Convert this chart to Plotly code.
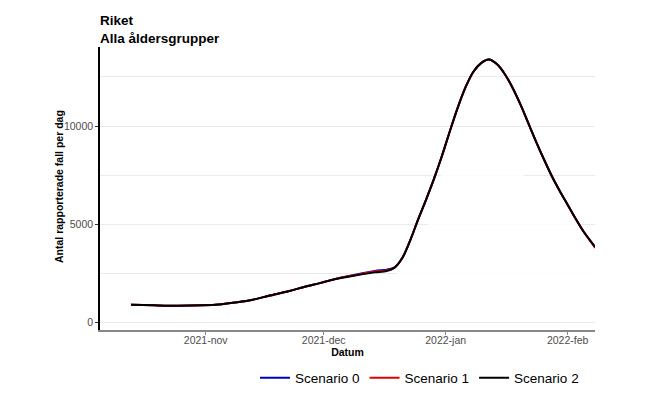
import plotly.graph_objects as go

dates = ["2021-10-13","2021-10-19","2021-10-25","2021-10-31","2021-11-05","2021-11-09",
         "2021-11-13","2021-11-17","2021-11-22","2021-11-26","2021-11-30","2021-12-04",
         "2021-12-09","2021-12-14","2021-12-17","2021-12-19","2021-12-21","2021-12-23",
         "2021-12-25","2021-12-27","2021-12-29","2021-12-31","2022-01-02","2022-01-04",
         "2022-01-06","2022-01-08","2022-01-10","2022-01-12","2022-01-14","2022-01-16",
         "2022-01-18","2022-01-20","2022-01-22","2022-01-24","2022-01-26","2022-01-28",
         "2022-01-30","2022-02-01","2022-02-03","2022-02-05","2022-02-08"]

scenario2 = [915, 885, 865, 885, 945, 1040, 1170, 1370, 1600, 1820, 2015, 2220,
             2400, 2560, 2630, 2800, 3300, 4200, 5250, 6250, 7300, 8450, 9700, 10900,
             11950, 12750, 13200, 13380, 13150, 12650, 11950, 11100, 10150, 9200, 8300, 7450,
             6700, 6000, 5300, 4650, 3850]
scenario0 = [915, 885, 865, 885, 945, 1040, 1170, 1370, 1600, 1820, 2015, 2230,
             2440, 2630, 2700, 2810, 3300, 4200, 5250, 6250, 7300, 8450, 9700, 10900,
             11950, 12750, 13200, 13380, 13150, 12650, 11950, 11100, 10150, 9200, 8300, 7450,
             6700, 6000, 5300, 4650, 3850]
scenario1 = [915, 885, 865, 885, 945, 1040, 1170, 1370, 1600, 1820, 2015, 2225,
             2420, 2600, 2670, 2805, 3300, 4200, 5250, 6250, 7300, 8450, 9700, 10900,
             11950, 12750, 13200, 13380, 13150, 12650, 11950, 11100, 10150, 9200, 8300, 7450,
             6700, 6000, 5300, 4650, 3800]

band_dates = ["2021-12-19","2021-12-24","2021-12-28","2021-12-31","2022-01-05","2022-01-10",
              "2022-01-15","2022-01-20","2022-01-25","2022-01-30","2022-02-03","2022-02-08"]
band_upper = [2700, 3900, 5200, 7600, 8300, 8500, 8300, 7700, 6500, 5500, 5100, 4600]
band_lower = [2600, 2000, 1800, 1800, 1800, 1800, 1800, 1800, 1800, 1900, 2000, 2000]

y_ticks = [0, 5000, 10000]
y_labels = ["0", "5000", "10000"]
x_ticks = ["2021-11-01", "2021-12-01", "2022-01-01", "2022-02-01"]
x_labels = ["2021-nov", "2021-dec", "2022-jan", "2022-feb"]

FONT = "Liberation Sans, Arial, sans-serif"

fig = go.Figure()

fig.add_trace(go.Scatter(
    x=band_dates + band_dates[::-1],
    y=band_upper + band_lower[::-1],
    fill="toself", fillcolor="rgba(255,255,255,0.85)",
    line=dict(width=0), mode="lines", showlegend=False, hoverinfo="skip"))

for name, vals, col in [("Scenario 0", scenario0, "#0000cc"),
                        ("Scenario 1", scenario1, "#e00000"),
                        ("Scenario 2", scenario2, "#000000")]:
    fig.add_trace(go.Scatter(
        x=dates, y=vals, name=name, mode="lines",
        line=dict(color=col, width=2, shape="spline", smoothing=0.9)))

fig.update_layout(
    width=650, height=394, autosize=False,
    margin=dict(l=100, r=55, t=47, b=64),
    paper_bgcolor="white", plot_bgcolor="white",
    font=dict(family=FONT, size=10.5, color="#4d4d4d"),
    showlegend=True,
    title=dict(text="<b>Riket</b><br><b>Alla åldersgrupper</b>",
               x=0, xref="paper", xanchor="left",
               y=1 - 25 / 394, yref="container", yanchor="middle",
               font=dict(size=13.5, color="#000000", family=FONT)),
    legend=dict(orientation="h", xref="container", x=584 / 650, xanchor="right",
                yref="container", y=1 - 378 / 394, yanchor="middle",
                font=dict(size=13.5, color="#000000", family=FONT),
                bgcolor="rgba(0,0,0,0)", itemwidth=30, tracegroupgap=0),
    annotations=[
        dict(text="<b>Antal rapporterade fall per dag</b>", textangle=-90,
             xref="paper", yref="paper", x=(59 - 100) / 495, y=(330 - 187) / 283,
             xanchor="center", yanchor="middle", showarrow=False,
             font=dict(size=10.5, color="#000000", family=FONT)),
    ],
)

fig.update_xaxes(
    type="date", range=["2021-10-05 03:00", "2022-02-07 23:00"],
    tickvals=x_ticks, ticktext=x_labels, automargin=False,
    showgrid=False, zeroline=False,
    showline=True, linecolor="#888888", linewidth=2,
    ticks="outside", ticklen=3, tickcolor="#888888", tickwidth=1,
    ticklabelstandoff=-4,
    tickfont=dict(size=10.5, color="#4d4d4d"),
    title=dict(text="<b>Datum</b>", font=dict(size=10.5, color="#000000"), standoff=2),
)

fig.update_yaxes(
    range=[-370, 14020], automargin=False,
    tickvals=y_ticks, ticktext=y_labels,
    showgrid=True, gridcolor="#ebebeb", gridwidth=1,
    minor=dict(dtick=2500, tick0=0, showgrid=True, gridcolor="#ebebeb", gridwidth=1, ticks=""),
    zeroline=False,
    showline=True, linecolor="#000000", linewidth=1.5,
    ticks="outside", ticklen=3, tickcolor="#333333", tickwidth=1,
    ticklabelstandoff=0,
    tickfont=dict(size=10.5, color="#4d4d4d"),
)

fig.write_html("out.html", config={"responsive": False, "displayModeBar": False},
               post_script="document.body.style.margin='0';document.body.style.overflow='hidden';")
